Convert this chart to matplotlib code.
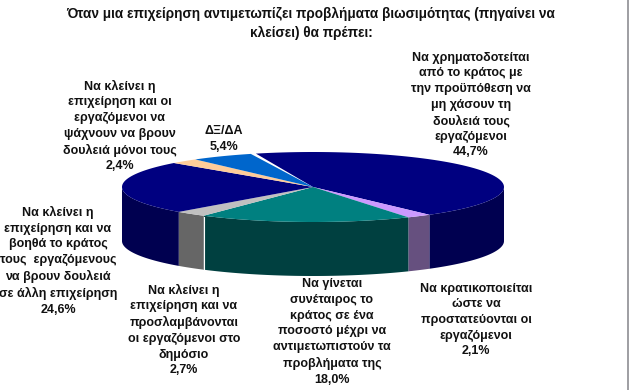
import matplotlib
matplotlib.use('Agg')
import matplotlib.pyplot as plt
import numpy as np

plt.rcParams['font.family'] = ['Liberation Sans', 'DejaVu Sans']

# clockwise, starting at the top of the pie
values = [44.7, 2.1, 18.0, 2.7, 24.6, 2.4, 5.4]
top_colors = ['#000080', '#CC99FF', '#008080', '#C0C0C0', '#000080', '#FFCC99', '#0066CC']
side_colors = ['#000050', '#66507F', '#004040', '#666666', '#000050', '#806650', '#003366']
labels = [
    'Να χρηματοδοτείται\nαπό το κράτος με\nτην προϋπόθεση να\nμη χάσουν τη\nδουλειά τους\nεργαζόμενοι\n44,7%',
    'Να κρατικοποιείται\nώστε να\nπροστατεύονται οι\nεργαζόμενοι\n2,1%',
    'Να γίνεται\nσυνέταιρος το\nκράτος σε ένα\nποσοστό μέχρι να\nαντιμετωπιστούν τα\nπροβλήματα της\n18,0%',
    'Να κλείνει η\nεπιχείρηση και να\nπροσλαμβάνονται\nοι εργαζόμενοι στο\nδημόσιο\n2,7%',
    'Να κλείνει η\nεπιχείρηση και να\nβοηθά το κράτος\nτους  εργαζόμενους\nνα βρουν δουλειά\nσε άλλη επιχείρηση\n24,6%',
    'Να κλείνει η\nεπιχείρηση και οι\nεργαζόμενοι να\nψάχνουν να βρουν\nδουλειά μόνοι τους\n2,4%',
    'ΔΞ/ΔΑ\n5,4%',
]
label_pos = [(471, 105), (476, 320), (332, 332), (184, 330), (58, 261), (120, 126), (224, 139)]
title = 'Όταν μια επιχείρηση αντιμετωπίζει προβλήματα βιωσιμότητας (πηγαίνει να\nκλείσει) θα πρέπει:'

cx, cy, rx, ry, depth = 313, 187, 191, 35, 54
start_angle = -18.6


def rim(a0, a1):
    t = np.radians(np.linspace(a0, a1, 80))
    return cx + rx * np.sin(t), cy - ry * np.cos(t)


fig = plt.figure(figsize=(6.29, 3.9), dpi=100)
ax = fig.add_axes([0, 0, 1, 1])
ax.set_xlim(0, 629)
ax.set_ylim(390, 0)
ax.axis('off')

edges = start_angle + np.cumsum([0] + values) * 360 / sum(values)

# side wall first, only the front half of the rim shows
for i in range(len(values)):
    a0, a1 = max(edges[i], 90), min(edges[i + 1], 270)
    if a1 <= a0:
        continue
    x, y = rim(a0, a1)
    ax.fill(np.r_[x, x[::-1]], np.r_[y, y[::-1] + depth], color=side_colors[i], lw=0)

# thin white seam between the teal and grey walls
x, y = rim(edges[3], edges[3])
ax.plot([x[0], x[0]], [y[0] + 1, y[0] + depth], color='white', lw=0.8)

# top faces, small gap left at the top between blue and navy
for i in range(len(values)):
    a0 = edges[i] + (1.2 if i == 0 else 0)
    a1 = edges[i + 1] - (0.4 if i == len(values) - 1 else 0)
    x, y = rim(a0, a1)
    ax.fill(np.r_[cx, x], np.r_[cy, y], color=top_colors[i], lw=0)

for txt, (lx, ly) in zip(labels, label_pos):
    ax.text(lx, ly, txt, ha='center', va='center', fontsize=9, fontweight='bold',
            color='#111111', linespacing=1.4)

ax.text(311, 23, title, ha='center', va='center', fontsize=9.85, fontweight='bold',
        color='#111111', linespacing=1.45)

# grey strip on the right edge of the screenshot
ax.axvspan(627, 629, color='#A0A0A4', lw=0)

fig.savefig('out.png', dpi=100)
